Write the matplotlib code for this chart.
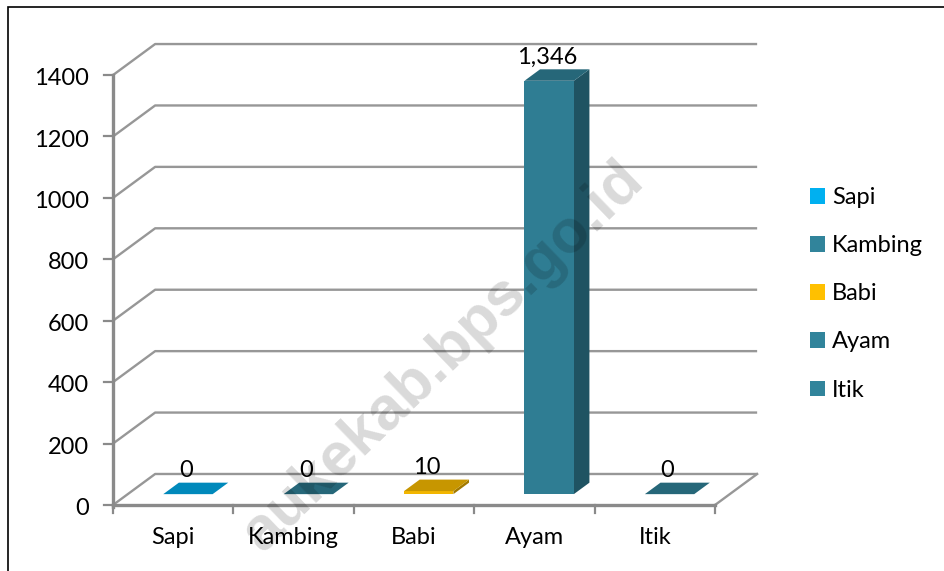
import matplotlib
matplotlib.use("Agg")
import matplotlib.pyplot as plt
from matplotlib.patches import Polygon, Patch, Rectangle
from matplotlib.colors import to_rgb

categories = ["Sapi", "Kambing", "Babi", "Ayam", "Itik"]
values = [0, 0, 10, 1346, 0]
value_labels = ["0", "0", "10", "1,346", "0"]
colors = ["#00B0F0", "#31849B", "#FFC000", "#31849B", "#31849B"]
y_ticks = [0, 200, 400, 600, 800, 1000, 1200, 1400]

plt.rcParams["font.family"] = ["Lato", "DejaVu Sans"]
FS = 17

# oblique depth of the fake 3d box (data units)
DX = 0.35
DV = 101
bar_w = 0.41
f1, f2 = 0.35, 0.72   # bar starts / ends at this fraction of depth

grid_c = "#979797"
axis_c = "#8a8a8a"


def shade(c, k):
    r, g, b = to_rgb(c)
    return (r * k, g * k, b * k)


fig = plt.figure(figsize=(9.45, 5.71), dpi=100)
ax = fig.add_axes([0, 0, 1, 1])
# 1 category = 120.4 px, 1 unit of value = 0.3071 px, origin at (113, 505) px
ax.set_xlim(-113 / 120.4, 832 / 120.4)
ax.set_ylim(-66 / 0.3071, 505 / 0.3071)
ax.axis("off")

n = len(categories)

# walls
for v in y_ticks:
    ax.plot([0, DX, n + DX], [v, v + DV, v + DV], color=grid_c, lw=1.7,
            solid_capstyle="butt", zorder=1)
    ax.plot([-0.075, 0], [v, v], color=axis_c, lw=1.6, zorder=2)
    ax.text(-0.2, v - 33, str(v), ha="right", va="baseline", fontsize=FS)

# floor
ax.plot([n, n + DX], [0, DV], color=grid_c, lw=1.7, zorder=1)
ax.plot([0, 0], [-8, y_ticks[-1]], color=axis_c, lw=2.4, zorder=2)
ax.plot([0, n], [0, 0], color=axis_c, lw=2.4, zorder=2)
for i in range(n + 1):
    ax.plot([i, i], [0, -26], color=axis_c, lw=1.6, zorder=2)

for i, name in enumerate(categories):
    ax.text(i + 0.5, -127, name, ha="center", va="baseline", fontsize=FS)

# bars
ddx = (f2 - f1) * DX
ddv = (f2 - f1) * DV
for i, (v, c) in enumerate(zip(values, colors)):
    x0 = i + 0.5 - bar_w / 2 + f1 * DX
    x1 = x0 + bar_w
    b0 = f1 * DV
    front = [(x0, b0), (x1, b0), (x1, b0 + v), (x0, b0 + v)]
    side = [(x1, b0), (x1 + ddx, b0 + ddv), (x1 + ddx, b0 + ddv + v), (x1, b0 + v)]
    top = [(x0, b0 + v), (x1, b0 + v), (x1 + ddx, b0 + v + ddv), (x0 + ddx, b0 + v + ddv)]
    ax.add_patch(Polygon(side, closed=True, fc=shade(c, 0.63), ec="none", zorder=3))
    ax.add_patch(Polygon(front, closed=True, fc=shade(c, 0.95), ec="none", zorder=3))
    ax.add_patch(Polygon(top, closed=True, fc=shade(c, 0.78), ec="none", zorder=3))
    ax.annotate(value_labels[i], (i + 0.5 + 0.3 * DX, v + f2 * DV), xytext=(0, 4),
                textcoords="offset points", ha="center", va="baseline", fontsize=FS,
                zorder=4)

# legend
handles = [Patch(facecolor=c, edgecolor="none", label=name)
           for name, c in zip(categories, colors)]
fig.legend(handles=handles, loc="upper left", bbox_to_anchor=(810 / 945, 1 - 187 / 571),
           frameon=False, fontsize=FS, handlelength=0.64, handleheight=0.64,
           handletextpad=0.3, labelspacing=1.15, borderpad=0, borderaxespad=0)

# watermark
ax.text(2.74, 480, "aukekab.bps.go.id", rotation=44, rotation_mode="anchor",
        ha="center", va="center", fontsize=44, fontweight="bold",
        family="Liberation Sans", color="black", alpha=0.15, zorder=5)

# outer frame
fig.add_artist(Rectangle((8 / 945, -0.05), 1.2, 1.05 - 7 / 571, transform=fig.transFigure,
                         fill=False, ec="black", lw=1.2))

fig.savefig("out.png", dpi=100)
